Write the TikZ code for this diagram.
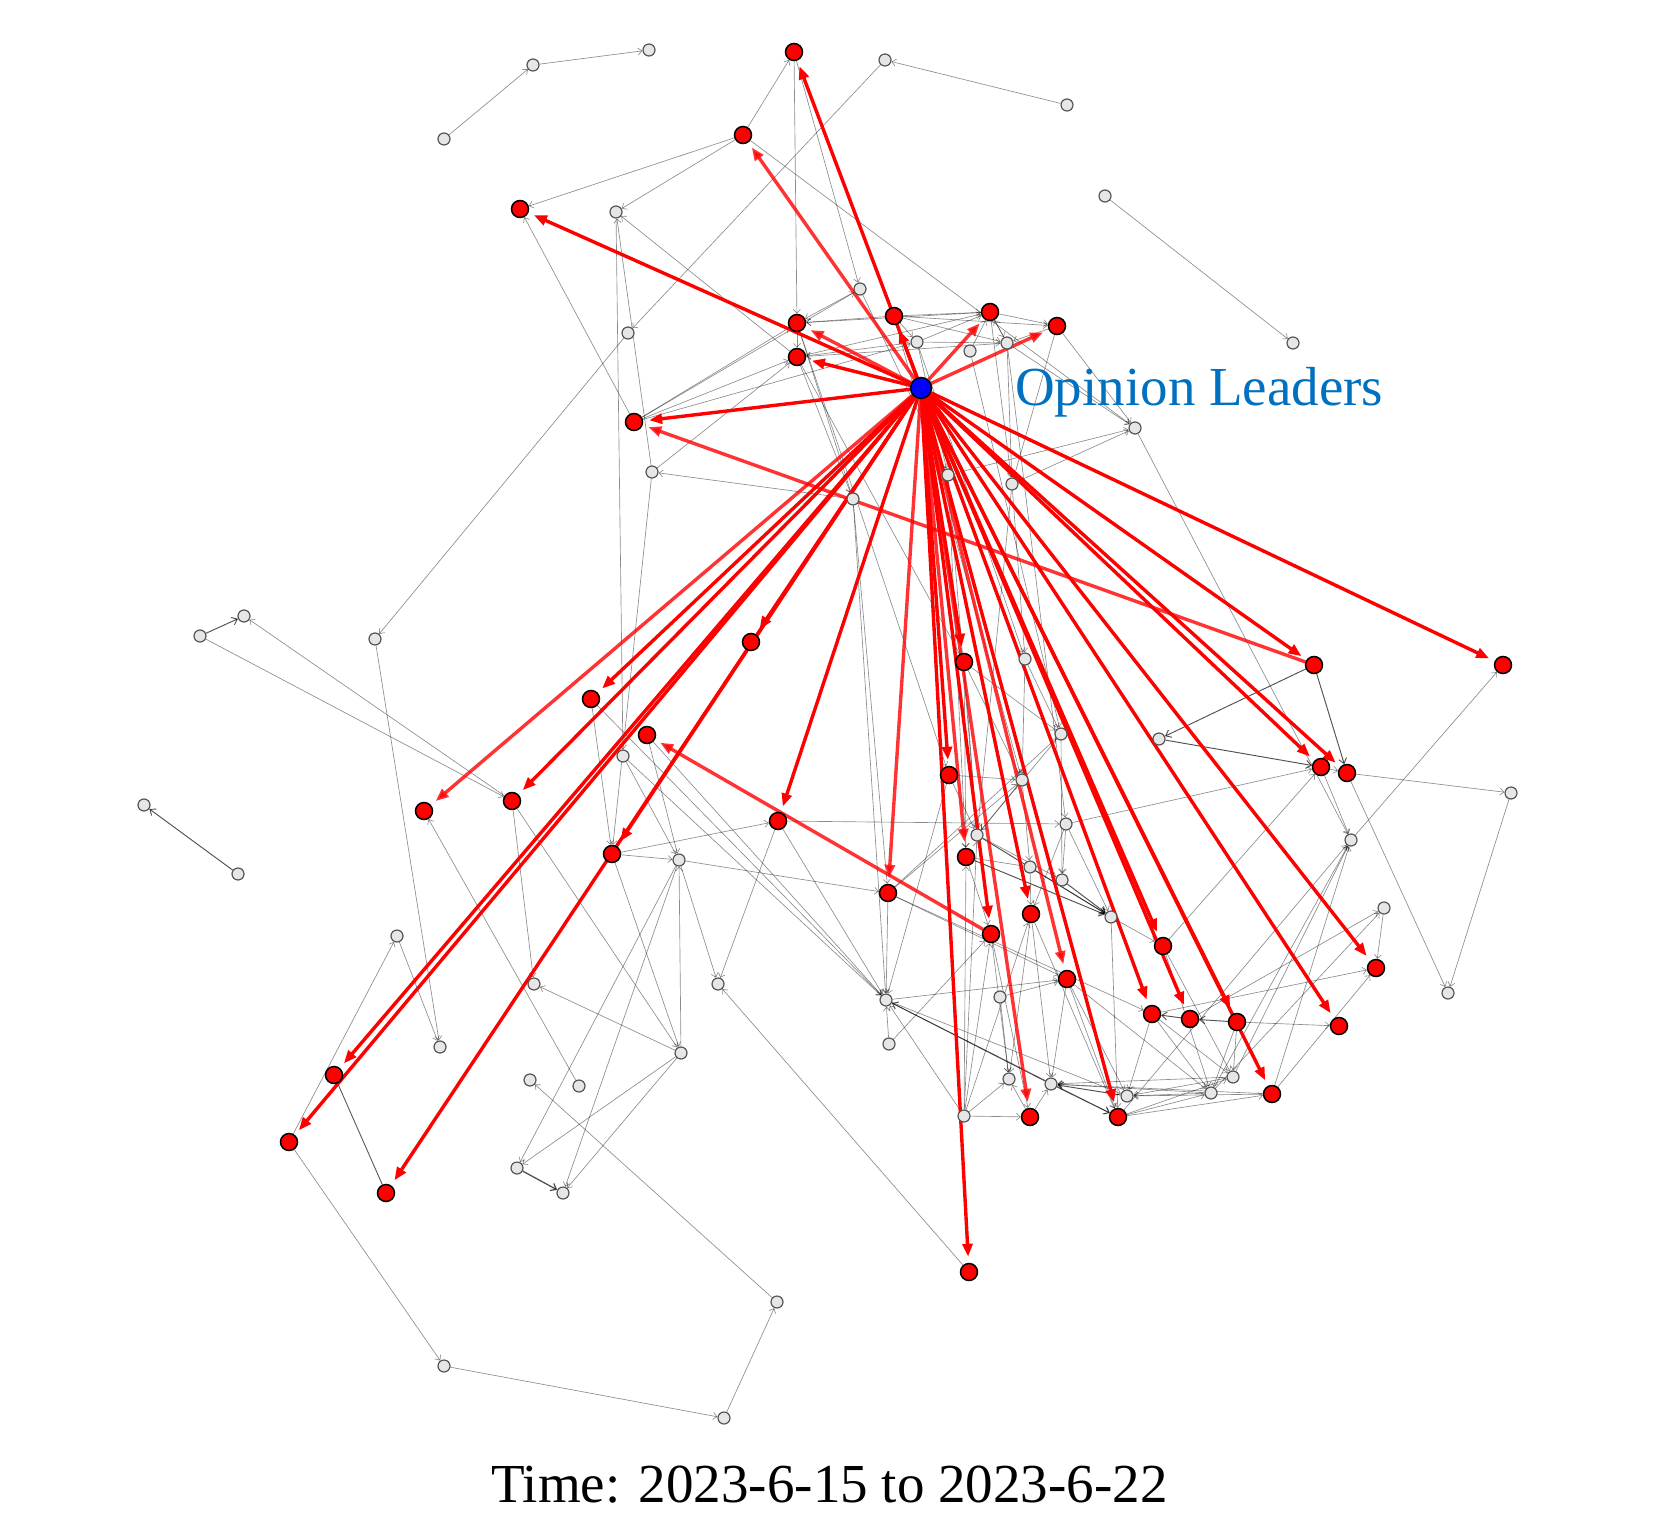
\documentclass[tikz,border=0pt]{standalone}
\usepackage{fontspec}
\setmainfont{Liberation Serif}
\usetikzlibrary{arrows.meta}
\pgfdeclarelayer{bg}
\pgfdeclarelayer{mid}
\pgfsetlayers{bg,mid,main}
\definecolor{olblue}{RGB}{0,112,192}
\definecolor{gfill}{RGB}{230,230,230}
\definecolor{gdraw}{RGB}{85,85,85}
\tikzset{
  rn/.style={circle, fill=red, draw=black, line width=1.5pt, minimum size=17pt, inner sep=0pt},
  gn/.style={circle, fill=gfill, draw=gdraw, line width=1.2pt, minimum size=12pt, inner sep=0pt},
  hubn/.style={circle, fill=blue, draw=black, line width=1.5pt, minimum size=21pt, inner sep=0pt},
  ge/.style={draw=black, opacity=0.45, line width=0.65pt, -{Straight Barb[length=4pt,width=7pt]}},
  gd/.style={draw=black, opacity=0.68, line width=0.95pt, -{Straight Barb[length=5pt,width=8pt]}},
  ra/.style={draw=red, line width=3.4pt, -{Triangle[length=13pt,width=10pt]}, shorten >=6pt},
  ral/.style={ra, opacity=0.8}
}
\begin{document}
\begin{tikzpicture}[x=1pt,y=-1pt]
\useasboundingbox (0,0) rectangle (1662,1536);
% hub
\node[hubn] (h) at (921,388) {};
% red nodes
\foreach \n/\x/\y in {r1/794/52, r2/743/135, r3/520/209, r4/797/323, r5/797/357,
  r6/894/316, r7/990/312, r8/1057/326, r9/634/422, r10/1314/665, r11/1503/665,
  r12/1321/767, r13/1347/773, r14/1376/968, r15/1339/1026, r16/1272/1094,
  r17/1237/1022, r18/1190/1019, r19/1163/946, r20/1152/1014, r21/1118/1117,
  r22/1067/979, r23/1031/914, r24/1030/1117, r25/991/934, r26/966/857,
  r27/949/775, r28/964/662, r29/969/1272, r30/888/893, r31/778/821,
  r32/751/642, r33/591/699, r34/512/801, r35/424/811, r36/334/1075,
  r37/289/1142, r38/386/1193, r39/612/854, r40/647/735}
  \node[rn] (\n) at (\x,\y) {};
% grey nodes
\foreach \n/\x/\y in {g1/649/50, g2/533/65, g3/444/139, g4/885/60, g5/1067/105,
  g6/1105/196, g7/1293/343, g8/860/289, g9/917/342, g10/970/351, g11/1007/343,
  g12/1135/428, g13/948/475, g14/1012/484, g15/853/499, g16/616/212, g17/628/333,
  g18/652/472, g19/244/616, g20/200/636, g21/375/639, g22/144/805, g23/238/874,
  g24/623/756, g25/679/860, g26/397/936, g27/534/984, g28/1025/659, g29/1061/734,
  g30/1159/739, g31/1022/780, g32/1066/824, g33/977/835, g34/1030/867,
  g35/1062/880, g36/1111/917, g37/1351/840, g38/1511/793, g39/1384/908,
  g40/1448/993, g41/886/1000, g42/1000/997, g43/889/1044, g44/1009/1079,
  g45/1051/1084, g46/1127/1096, g47/1211/1093, g48/1233/1077, g49/964/1116,
  g50/718/984, g51/681/1053, g52/579/1086, g53/530/1080, g54/517/1168,
  g55/563/1193, g56/440/1047, g57/777/1302, g58/444/1366, g59/724/1418}
  \node[gn] (\n) at (\x,\y) {};
% labels
\node[anchor=base west, text=olblue, font=\fontsize{55}{60}\selectfont, inner sep=0pt] (lbl) at (1015,405) {Opinion Leaders};
\node[anchor=base west, text=black, font=\fontsize{55}{60}\selectfont, inner sep=0pt] (time) at (491,1502) {Time: 2023-6-15 to 2023-6-22};
% grey edges
\begin{pgfonlayer}{bg}
\foreach \a/\b in {g3/g2, g2/g1, g5/g4, g6/g7, g4/g17, g17/g21, g21/g56, r37/g58,
  g58/g59, g59/g57, g57/g53, r2/r3, r2/g16, r2/r1, r1/r4, r1/g8, r9/r3, g18/g16,
  r5/g16, g15/g18, g18/r5, g16/g24, g18/r39,
  g20/r34, r34/g19, g52/r35, r34/g27, r34/g51, r33/r39, r33/g41, r40/g25, r40/g41,
  g24/g41, g24/g25, r39/g25, r39/r31, r39/g51, g25/g54, g25/g55, g51/g25, g25/g50,
  r31/g50, r29/g50, g51/g54, g51/g55, g51/g27, r37/g26, g26/g56, g25/r30, r31/g32,
  r31/g41,
  g8/r4, r6/r4, r6/r7, r6/g9, r6/g11, r6/r8, g9/r7, g9/g11, g9/r5, r7/r8, r7/g11,
  r7/r4, g11/r5, r8/g11, r4/r5, g10/r7, r5/r7, g11/r7, r8/g12, r8/g14, r7/g14,
  g11/g14, g9/g13, g8/g13, r4/g15, r5/g15, g14/g12, g13/g12, g11/g12, r2/g12,
  r9/r4, r9/r5, r9/g8, r9/g9,
  r5/r28, r4/r27, g13/g33, g13/r26, g14/g28, g14/g33, g15/r30, g15/g41, r6/g31,
  g10/g29, g11/g32, g9/g28, r28/g29, r28/g31, r28/g33, r28/r26, g28/g29, g28/g31,
  g31/g34, g31/g33, g29/g35, r30/g29, g29/g33, g32/g35, g32/r23, g32/g36, r27/g31,
  r27/g33, r27/g41, g33/g35, r26/g34, r26/r25, g34/r23, g34/g36, g36/r19, r19/r12,
  g32/r12, r12/r13, r12/g37, r13/g38, g38/g40, r13/g40, g37/r11, g12/g37, r30/g31,
  r30/g41, r30/r22, r30/r20, g43/g41, g43/r25, g41/g46, g41/r21, g49/g41, g49/r24,
  g49/g44, g49/r25, g49/r23, g49/r26, g49/g33, g42/g44, g42/r22, r24/g44, r24/g45,
  r22/r21, r22/g45, r22/g47, r22/g46, r20/g46, r20/g47, r20/g48, r17/g48, r17/g47,
  r17/r15, r21/g47, r21/g48, r21/r16, g47/g45, g48/g45, r16/g45, g47/g46, g48/g46,
  r16/g46, g47/g37, g48/g37, r16/g37, r21/g37, r18/g39, g47/g39, r20/r14, g39/r14,
  r16/r14, r19/g48, r19/g47, r25/g44, r23/g44, r23/r21, g36/r21, r23/g45, r25/r24,
  g41/r22}
  \draw[ge] (\a) -- (\b);
\foreach \a/\b in {g20/g19, g23/g22, r10/g30, g30/r12, r10/r13, g33/g36,
  r26/g36, g35/g36, r18/r20, r17/r18, g45/g41, g45/r21, g46/g45}
  \draw[gd] (\a) -- (\b);
\draw[draw=black, opacity=0.65, line width=0.9pt] (r36) -- (r38);
\draw[gd, line width=1.3pt] (g54) -- (g55);
\end{pgfonlayer}
% red arrows
\begin{pgfonlayer}{mid}
\foreach \t in {r1, r3, r5, r6, r9, r10, r11, r12, r13, r14, r15, r16, r17, r18,
  r19, r20, r21, r23, r25, r27, r28, r29, r31, r32, r33, r34, r36, r37, r38, r39}
  \draw[ra] (h) -- (\t);
\foreach \t in {r2, r4, r7, r8, r22, r24, r26, r30, r35}
  \draw[ral] (h) -- (\t);
\draw[ral] (r10) -- (r9);
\draw[ral] (r25) -- (r40);
\end{pgfonlayer}
\end{tikzpicture}
\end{document}
